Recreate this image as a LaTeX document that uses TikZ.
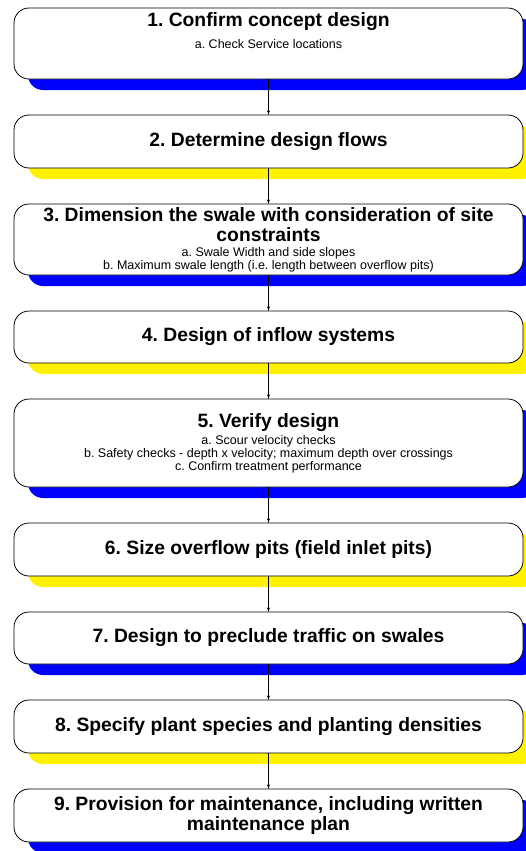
\documentclass[tikz,border=0pt]{standalone}
\usepackage{fontspec}
\setmainfont{Liberation Sans}
\usetikzlibrary{arrows,positioning,shadows}

\newcommand{\stepnote}[1]{{\fontsize{12.5}{13}\selectfont\mdseries #1}}

\begin{document}
\frenchspacing
\begin{tikzpicture}[x=1pt,y=1pt,->,>=latex',shorten >=0pt,node distance=36pt,
			thick,
			step box/.style={rectangle,rounded corners=15pt,draw,fill=white,line width=0.8pt,
				font=\fontsize{19.3}{20}\selectfont\bfseries,align=center,outer sep=0pt,
				minimum width=509pt,inner xsep=2pt,inner ysep=0pt},
			blue step/.style={step box,drop shadow={shadow xshift=14pt,shadow yshift=-11pt,
				fill=blue,opacity=1}},
			yellow step/.style={step box,drop shadow={shadow xshift=14pt,shadow yshift=-11pt,
				fill=yellow,opacity=1}}
			]
			\useasboundingbox (0,0) rectangle (525,-851);
			
			\node[blue step,minimum height=71pt] (s1) at (268.5,-43.5)
				{1. Confirm concept design\\[2pt] \stepnote{a. Check Service locations}\\[5pt]\mbox{}};
			\node[yellow step,minimum height=53pt] (s2) [below=of s1] {2. Determine design flows};
			\node[blue step,minimum height=71pt] (s3) [below=of s2]
				{3. Dimension the swale with consideration of site\\ constraints\\[-5pt]
				\stepnote{a. Swale Width and side slopes}\\[-7pt]
				\stepnote{b. Maximum swale length (i.e. length between overflow pits)}};
			\node[yellow step,minimum height=52pt] (s4) [below=of s3] {4. Design of inflow systems};
			\node[blue step,minimum height=88pt] (s5) [below=of s4]
				{5. Verify design\\[-3pt]
				\stepnote{a. Scour velocity checks}\\[-7pt]
				\stepnote{b. Safety checks - depth x velocity; maximum depth over crossings}\\[-7pt]
				\stepnote{c. Confirm treatment performance}};
			\node[yellow step,minimum height=53pt] (s6) [below=of s5] {6. Size overflow pits (field inlet pits)};
			\node[blue step,minimum height=52pt] (s7) [below=of s6] {7. Design to preclude traffic on swales};
			\node[yellow step,minimum height=53pt] (s8) [below=of s7] {8. Specify plant species and planting densities};
			\node[blue step,minimum height=53pt] (s9) [below=of s8]
				{9. Provision for maintenance, including written\\ maintenance plan};
			
			\path[line width=0.6pt]
			(s1) edge (s2)
			(s2) edge (s3)
			(s3) edge (s4)
			(s4) edge (s5)
			(s5) edge (s6)
			(s6) edge (s7)
			(s7) edge (s8)
			(s8) edge (s9)
			;
			
		\end{tikzpicture}
\end{document}
